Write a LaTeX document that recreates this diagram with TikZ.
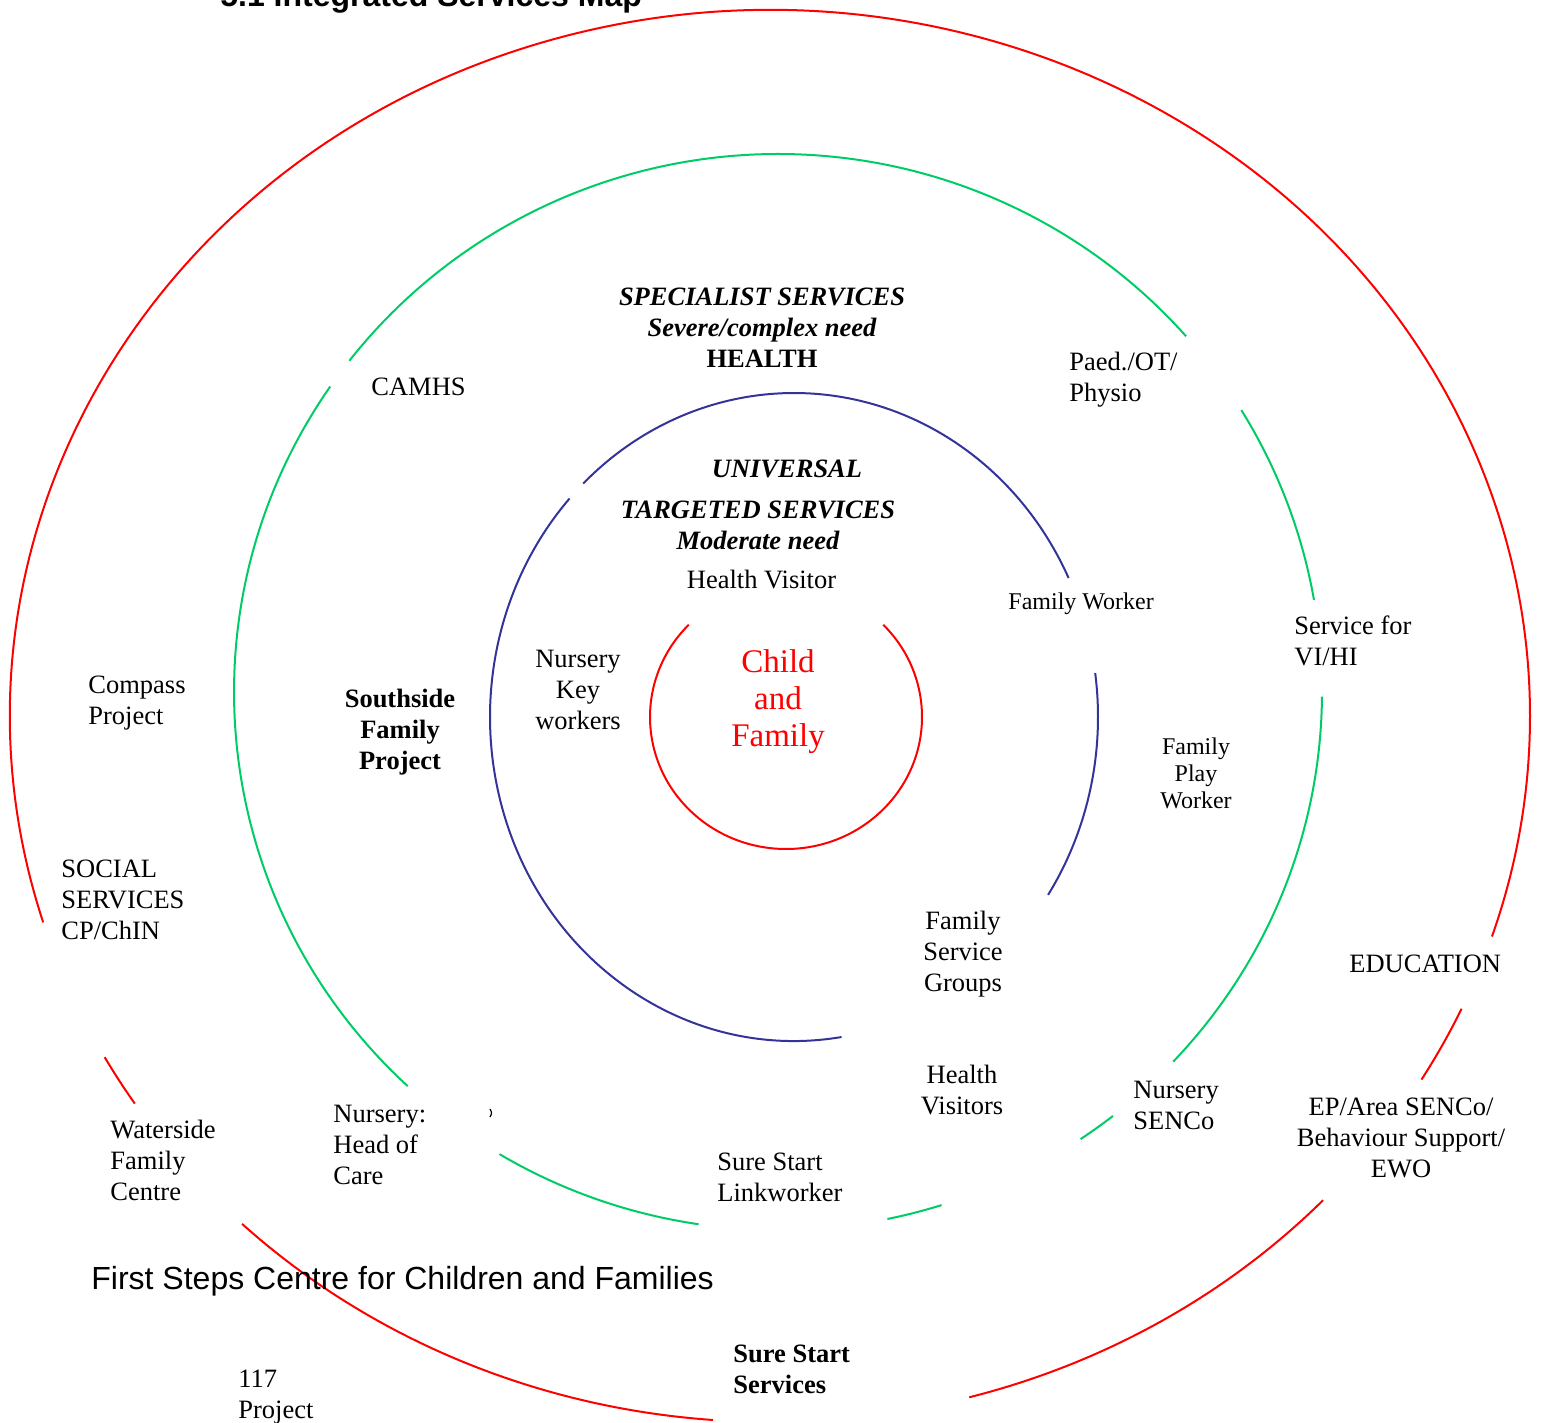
\documentclass[tikz,border=0pt]{standalone}
\usepackage{fontspec}
\setmainfont{Liberation Serif}
\setsansfont{Liberation Sans}
\definecolor{ringred}{RGB}{255,0,0}
\definecolor{ringgreen}{RGB}{0,204,102}
\definecolor{ringblue}{RGB}{51,51,153}
\newcommand\ringarc[7]{\draw[ring,#1] (#2,#3) ++(#6:#4 and #5) arc[start angle=#6, end angle=#7, x radius=#4, y radius=#5];}
\begin{document}
\begin{tikzpicture}[x=0.5pt,y=-0.5pt,
  ring/.style={line width=1pt},
  lbl/.style={inner sep=0pt, font=\fontsize{13.25}{15.5}\selectfont},
  lblsmall/.style={inner sep=0pt, font=\fontsize{12}{13.5}\selectfont},
  lft/.style={anchor=base west, align=left},
  ctr/.style={anchor=base, align=center},
  bi/.style={font=\fontsize{13.25}{15.5}\selectfont\bfseries\itshape},
  bo/.style={font=\fontsize{13.25}{15.5}\selectfont\bfseries}]
\useasboundingbox (0,0) rectangle (1541,1423);
% outer red ring
\ringarc{ringred}{770}{716}{760}{706}{163.0}{378.2}
\ringarc{ringred}{770}{716}{760}{706}{24.5}{31.0}
\ringarc{ringred}{770}{716}{760}{706}{43.3}{74.8}
\ringarc{ringred}{770}{716}{760}{706}{94.3}{134.0}
\ringarc{ringred}{770}{716}{760}{706}{146.7}{151.1}
% green ring
\ringarc{ringgreen}{778}{692}{544}{538}{218.0}{318.6}
\ringarc{ringgreen}{778}{692}{544}{538}{328.4}{350.15}
\ringarc{ringgreen}{778}{692}{544}{538}{0.5}{43.4}
\ringarc{ringgreen}{778}{692}{544}{538}{52.0}{56.2}
\ringarc{ringgreen}{778}{692}{544}{538}{72.5}{78.4}
\ringarc{ringgreen}{778}{692}{544}{538}{98.4}{120.8}
\ringarc{ringgreen}{778}{692}{544}{538}{132.9}{214.6}
% blue ring
\ringarc{ringblue}{794}{717}{304}{324}{226.1}{334.6}
\ringarc{ringblue}{794}{717}{304}{324}{-7.8}{33.3}
\ringarc{ringblue}{794}{717}{304}{324}{81.0}{222.4}
% inner red ring
\ringarc{ringred}{786}{717}{136}{132}{-44.35}{224.35}
% small text fragment
\draw[line width=0.6pt] (490,1109) .. controls (492,1113) .. (490,1117);
% title
\node[inner sep=0pt, anchor=base west, font=\sffamily\bfseries\fontsize{16}{19}\selectfont] (title) at (220,7) {5.1 Integrated Services Map};
% labels (base anchor = last line baseline)
\node[lbl,lft] (camhs) at (371,395) {CAMHS};
\node[lbl,ctr,bi] (spec) at (762,336) {SPECIALIST SERVICES\\Severe/complex need};
\node[lbl,ctr,bo] (health) at (762,367) {HEALTH};
\node[lbl,lft] (paed) at (1069,401) {Paed./OT/\\Physio};
\node[lbl,ctr,bi] (univ) at (787,477) {UNIVERSAL};
\node[lbl,ctr,bi] (targ) at (758,549) {TARGETED SERVICES\\Moderate need};
\node[lbl,ctr] (hv) at (761.5,588) {Health Visitor};
\node[lblsmall,lft] (fw) at (1008,609) {Family Worker};
\node[lbl,lft] (vihi) at (1294,665) {Service for\\VI/HI};
\node[lbl,lft] (compass) at (88,724) {Compass\\Project};
\node[lbl,ctr,bo] (southside) at (400,769) {Southside\\Family\\Project};
\node[lbl,ctr] (nkw) at (578,729) {Nursery\\Key\\workers};
\node[inner sep=0pt, ctr, text=ringred, font=\fontsize{16.5}{18.5}\selectfont] (child) at (778,746) {Child\\and\\Family};
\node[lblsmall,ctr] (fpw) at (1196,808) {Family\\Play\\Worker};
\node[lbl,lft] (social) at (61,939) {SOCIAL\\SERVICES\\CP/ChIN};
\node[lbl,ctr] (fsg) at (963,991) {Family\\Service\\Groups};
\node[lbl,lft] (edu) at (1349,972) {EDUCATION};
\node[lbl,ctr] (hvs) at (962,1114) {Health\\Visitors};
\node[lbl,lft] (senco) at (1133,1129) {Nursery\\SENCo};
\node[lbl,ctr] (ep) at (1401,1177) {EP/Area SENCo/\\Behaviour Support/\\EWO};
\node[lbl,lft] (hoc) at (333,1184) {Nursery:\\Head of\\Care};
\node[lbl,lft] (waterside) at (110,1200) {Waterside\\Family\\Centre};
\node[lbl,lft] (link) at (717,1201) {Sure Start\\Linkworker};
\node[inner sep=0pt, anchor=base west, font=\sffamily\fontsize{16}{19}\selectfont] (firststeps) at (91,1289) {First Steps Centre for Children and Families};
\node[lbl,lft,bo] (sss) at (733,1393) {Sure Start\\Services};
\node[lbl,lft] (p117) at (238,1418) {117\\Project};
\end{tikzpicture}
\end{document}
